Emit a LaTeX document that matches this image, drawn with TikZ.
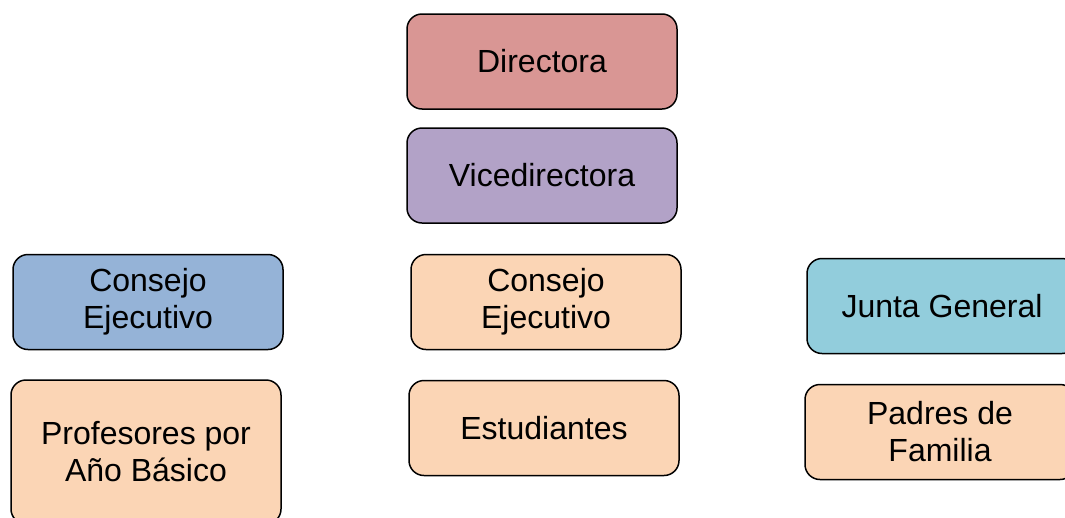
\documentclass[tikz,border=0pt]{standalone}
\usepackage{fontspec}
\setmainfont{Liberation Sans}
\usepackage{xcolor}
\definecolor{rosa}{RGB}{217,150,148}
\definecolor{lila}{RGB}{178,162,199}
\definecolor{azul}{RGB}{149,179,215}
\definecolor{durazno}{RGB}{251,213,181}
\definecolor{celeste}{RGB}{146,205,220}
\usepackage{tikz}
\begin{document}
\begin{tikzpicture}[x=1pt,y=-1pt,box/.style={draw=black,line width=1.5pt,rounded corners=15pt,minimum width=270pt,minimum height=95pt,align=center,inner sep=0pt,font=\fontsize{32}{37}\selectfont}]
\useasboundingbox (0,0) rectangle (1065,517);
\clip (0,0) rectangle (1065,517);
\node[box,fill=rosa] (dir) at (542,61.5) {Directora};
\node[box,fill=lila] (vice) at (542,175.5) {Vicedirectora};
\node[box,fill=azul] (consizq) at (148,302) {Consejo\\Ejecutivo};
\node[box,fill=durazno] (conscen) at (546,302) {Consejo\\Ejecutivo};
\node[box,fill=celeste] (junta) at (942,306) {Junta General};
\node[box,fill=durazno,minimum height=144pt] (prof) at (146,452) {Profesores por\\A\~no B\'asico};
\node[box,fill=durazno] (est) at (544,428) {Estudiantes};
\node[box,fill=durazno] (padres) at (940,432) {Padres de\\Familia};
\end{tikzpicture}
\end{document}
